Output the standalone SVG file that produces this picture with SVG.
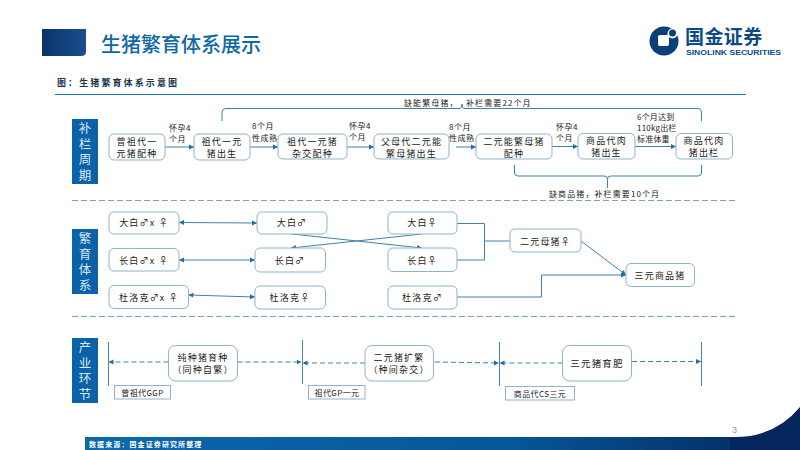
<svg xmlns="http://www.w3.org/2000/svg" width="800" height="450" viewBox="0 0 800 450">
<style>
text{font-family:"Noto Sans CJK SC","Liberation Sans",sans-serif;fill:#222}
.n{fill:#fff;stroke:#8fb4c8;stroke-width:1}
.t{font-size:9px;text-anchor:middle;letter-spacing:1.2px}
.l{font-size:8px;letter-spacing:.5px}
.side{fill:#0b62a8}
.st{fill:#d8e8f4;font-size:12.500px;text-anchor:middle;writing-mode:vertical-rl;letter-spacing:3px}
.c{fill:none;stroke:#3f83a8;stroke-width:1}
.d{fill:none;stroke:#3f83a8;stroke-width:1;stroke-dasharray:5 3}
.v{fill:none;stroke:#4d86a6;stroke-width:1}
.sep{fill:none;stroke:#7ba3bd;stroke-width:1;stroke-dasharray:6 3}
.b{fill:#fff;stroke:#8fb4c8;stroke-width:1}
</style>
<defs>
<marker id="a" markerUnits="userSpaceOnUse" markerWidth="6" markerHeight="6" refX="5" refY="3" orient="auto-start-reverse"><path d="M0 0.5L5 3L0 5.5Z" fill="#1f6fa3"/></marker>
<linearGradient id="hg" x1="0" x2="1" y1="0" y2="0"><stop offset="0" stop-color="#0b3468"/><stop offset="1" stop-color="#1a4f8c"/></linearGradient>
<linearGradient id="fg" x1="0" x2="1" y1="0" y2="0"><stop offset="0" stop-color="#0c68ad"/><stop offset=".6" stop-color="#075696"/><stop offset="1" stop-color="#04265c"/></linearGradient>
</defs>

<g id="header">
<path d="M42 29H86V52Q86 56 81 56H42Z" fill="url(#hg)"/>
<text x="101" y="52" style="font-size:20px;fill:#0f68a8;font-weight:500">生猪繁育体系展示</text>
<text x="57" y="86" style="font-size:9px;font-weight:700;letter-spacing:2.1px;fill:#1a3550">图：生猪繁育体系示意图</text>
<path d="M55 94.5H746" stroke="#1f74b8" stroke-width="1.2" fill="none"/>
</g>
<g id="logo">
<circle cx="664" cy="41" r="14.5" fill="#0c3f78"/>
<circle cx="672.500" cy="33.500" r="5" fill="#fff"/>
<circle cx="672.500" cy="33" r="3.500" fill="#0c3f78"/>
<rect x="658" y="35" width="11" height="11" rx="2" fill="#fff"/>
<text x="685" y="44" style="font-size:19px;font-weight:700;fill:#0c4a86;letter-spacing:.4px">国金证券</text>
<text x="686" y="54.500" style="font-size:7px;font-weight:700;fill:#0c4a86;font-family:'Liberation Sans',sans-serif" textLength="95" lengthAdjust="spacingAndGlyphs">SINOLINK SECURITIES</text>
</g>

<g id="connectors">
<path class="c" marker-end="url(#a)" d="M165 147H194"/>
<path class="c" marker-end="url(#a)" d="M250 147H278"/>
<path class="c" marker-end="url(#a)" d="M347 147H374"/>
<path class="c" marker-end="url(#a)" d="M456 147H476"/>
<path class="c" marker-end="url(#a)" d="M552 146.500H578"/>
<path class="c" marker-end="url(#a)" d="M635 146.500H676"/>
<path class="c" d="M222 121V112Q222 108.500 226 108.500H460Q462 108.500 462 104Q462 108.500 464 108.500H698Q701.500 108.500 701.500 112V121"/>
<path class="c" d="M514.500 165V173Q514.500 176 518 176H604Q607.500 176 607.500 179V188M607.500 179Q607.500 176 611 176H698Q701.500 176 701.500 173V165"/>
<path class="c" marker-start="url(#a)" marker-end="url(#a)" d="M179 222.500L257 223"/>
<path class="c" marker-start="url(#a)" marker-end="url(#a)" d="M179 260H255"/>
<path class="c" marker-start="url(#a)" marker-end="url(#a)" d="M188.500 295L255 297"/>
<path class="c" marker-end="url(#a)" d="M292 234L422 248"/>
<path class="c" marker-end="url(#a)" d="M422 234L291 248"/>
<path class="c" d="M457 223.500H484.500V260H457M484.500 241H510"/>
<path class="c" marker-end="url(#a)" d="M581 241L626 275"/>
<path class="c" marker-end="url(#a)" d="M457 297H541.500V275H626"/>
<path class="d" marker-end="url(#a)" d="M168.500 362H108.500"/>
<path class="d" marker-end="url(#a)" d="M237.500 362H301.500"/>
<path class="d" marker-end="url(#a)" d="M365 363H302.500"/>
<path class="d" marker-end="url(#a)" d="M435 362L499 363"/>
<path class="d" marker-end="url(#a)" d="M562.500 363H499.500"/>
<path class="d" marker-end="url(#a)" d="M632 361.500H701"/>
<path class="v" d="M108.500 342V386M302.500 340V384M499.500 342V386M701.500 342V386"/>
<path class="sep" d="M72 200.500H736M72 316.500H736"/>
</g>

<g id="side1"><rect class="side" x="72" y="119" width="26" height="65"/><text class="st" x="85" y="153">补栏周期</text></g>
<g id="side2"><rect class="side" x="72" y="229" width="26" height="65"/><text class="st" x="85" y="263">繁育体系</text></g>
<g id="side3"><rect class="side" x="72" y="338" width="26" height="65"/><text class="st" x="85" y="372">产业环节</text></g>

<g id="n1"><rect class="n" x="109" y="134" width="56" height="26" rx="5"/><text class="t"><tspan x="137" y="145">曾祖代一</tspan><tspan x="137" y="157">元猪配种</tspan></text></g>
<g id="n2"><rect class="n" x="194" y="134" width="56" height="26" rx="5"/><text class="t"><tspan x="222" y="145">祖代一元</tspan><tspan x="222" y="157">猪出生</tspan></text></g>
<g id="n3"><rect class="n" x="278" y="134" width="69" height="25" rx="5"/><text class="t"><tspan x="312.500" y="145">祖代一元猪</tspan><tspan x="312.500" y="157">杂交配种</tspan></text></g>
<g id="n4"><rect class="n" x="374" y="134" width="75" height="25" rx="5"/><text class="t"><tspan x="411.500" y="145">父母代二元能</tspan><tspan x="411.500" y="157">繁母猪出生</tspan></text></g>
<g id="n5"><rect class="n" x="476" y="134" width="76" height="25" rx="5"/><text class="t"><tspan x="514" y="145">二元能繁母猪</tspan><tspan x="514" y="157">配种</tspan></text></g>
<g id="n6"><rect class="n" x="578" y="133.500" width="57" height="25.500" rx="5"/><text class="t"><tspan x="606.500" y="144">商品代肉</tspan><tspan x="606.500" y="156">猪出生</tspan></text></g>
<g id="n7"><rect class="n" x="676" y="133.500" width="56.500" height="25.500" rx="5"/><text class="t"><tspan x="704" y="144">商品代肉</tspan><tspan x="704" y="156">猪出栏</tspan></text></g>

<g id="labels">
<text class="l"><tspan x="169" y="131">怀孕4</tspan><tspan x="169" y="142">个月</tspan></text>
<text class="l"><tspan x="252" y="129">8个月</tspan><tspan x="252" y="141">性成熟</tspan></text>
<text class="l"><tspan x="349" y="129">怀孕4</tspan><tspan x="349" y="140">个月</tspan></text>
<text class="l"><tspan x="449" y="130">8个月</tspan><tspan x="449" y="141">性成熟</tspan></text>
<text class="l"><tspan x="556" y="130">怀孕4</tspan><tspan x="556" y="141">个月</tspan></text>
<text class="l" style="letter-spacing:.2px"><tspan x="637" y="120">6个月达到</tspan><tspan x="637" y="131">110kg出栏</tspan><tspan x="637" y="142">标准体重</tspan></text>
<text class="l" x="404" y="106" style="letter-spacing:1.1px">缺能繁母猪，</text><text class="l" x="466" y="106" style="letter-spacing:1.1px">补栏需要22个月</text>
<text class="l" x="549" y="197" style="letter-spacing:1.1px">缺商品猪，补栏需要10个月</text>
</g>

<g id="b1"><rect class="n" x="109" y="212" width="70" height="22" rx="5"/><text class="t" x="144" y="226">大白♂x ♀</text></g>
<g id="b2"><rect class="n" x="109" y="248.500" width="70" height="22.500" rx="5"/><text class="t" x="144" y="264">长白♂x ♀</text></g>
<g id="b3"><rect class="n" x="109" y="285.500" width="79.500" height="23" rx="5"/><text class="t" x="149" y="301">杜洛克♂x ♀</text></g>
<g id="b4"><rect class="n" x="257" y="212" width="70" height="22" rx="5"/><text class="t" x="292" y="226">大白♂</text></g>
<g id="b5"><rect class="n" x="255" y="248" width="70.500" height="24" rx="5"/><text class="t" x="290" y="264">长白♂</text></g>
<g id="b6"><rect class="n" x="255" y="286" width="70.500" height="23" rx="5"/><text class="t" x="290" y="301">杜洛克♀</text></g>
<g id="b7"><rect class="n" x="388" y="212" width="69" height="22" rx="5"/><text class="t" x="422.500" y="226">大白♀</text></g>
<g id="b8"><rect class="n" x="388" y="248" width="69" height="23.500" rx="5"/><text class="t" x="422.500" y="264">长白♀</text></g>
<g id="b9"><rect class="n" x="388" y="286" width="69" height="23" rx="5"/><text class="t" x="422.500" y="301">杜洛克♂</text></g>
<g id="b10"><rect class="n" x="510" y="229" width="71" height="23" rx="5"/><text class="t" x="545.500" y="245">二元母猪♀</text></g>
<g id="b11"><rect class="n" x="626" y="263.500" width="68.500" height="23" rx="5"/><text class="t" x="660" y="279">三元商品猪</text></g>

<g id="c1"><rect class="n" x="168.500" y="345.500" width="69" height="35.500" rx="7"/><text class="t"><tspan x="203" y="361">纯种猪育种</tspan><tspan x="203" y="373">（同种自繁）</tspan></text></g>
<g id="c2"><rect class="n" x="365" y="345.500" width="68.500" height="35.500" rx="7"/><text class="t"><tspan x="399" y="361">二元猪扩繁</tspan><tspan x="399" y="373">（种间杂交）</tspan></text></g>
<g id="c3"><rect class="n" x="562.500" y="345.500" width="69" height="35.500" rx="7"/><text class="t" x="597" y="367" style="font-size:9.500px">三元猪育肥</text></g>

<g id="s1"><rect class="b" x="114.500" y="385.500" width="56" height="13.500"/><text class="t" x="142.500" y="396" style="font-size:8px;letter-spacing:.4px">曾祖代GGP</text></g>
<g id="s2"><rect class="b" x="308.500" y="385.500" width="56.500" height="13.500"/><text class="t" x="337" y="396" style="font-size:8px;letter-spacing:.4px">祖代GP一元</text></g>
<g id="s3"><rect class="b" x="505.500" y="386.500" width="69" height="13.500"/><text class="t" x="540" y="397" style="font-size:8px;letter-spacing:.4px">商品代CS三元</text></g>

<g id="footer">
<rect x="85" y="437" width="715" height="13" fill="url(#fg)"/>
<path d="M800 407Q775 437 735 437H730V450H800Z" fill="#04265c"/>
<text x="89" y="447" style="font-size:7px;font-weight:700;fill:#fff;letter-spacing:1.100px">数据来源：国金证券研究所整理</text>
<text x="732" y="433" style="font-size:9px;fill:#999;font-family:'Liberation Sans',sans-serif">3</text>
</g>
</svg>
